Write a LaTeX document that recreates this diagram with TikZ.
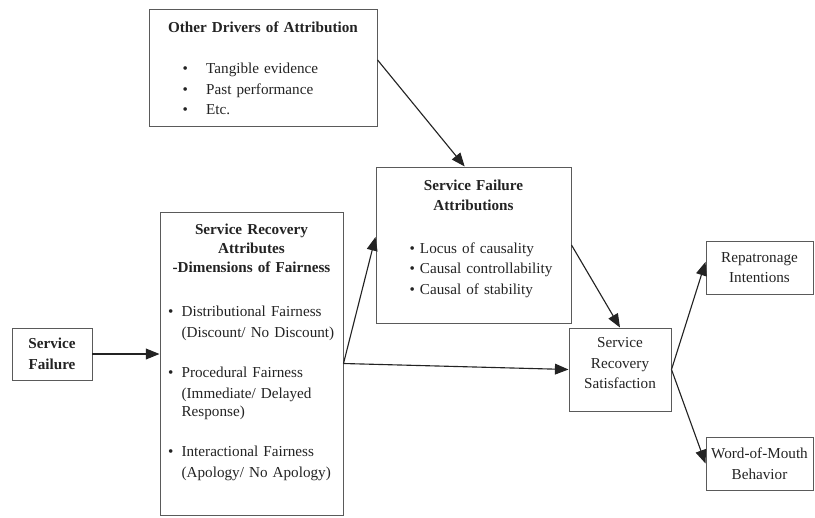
\documentclass[tikz,border=0pt]{standalone}
\usepackage{fontspec}
\setmainfont{Liberation Serif}
\usepackage{xcolor}
\usepackage{tikz}
\definecolor{framegray}{RGB}{90,90,90}
\definecolor{inkdark}{RGB}{35,35,35}
\usetikzlibrary{arrows.meta,positioning,calc}

\begin{document}
\begin{tikzpicture}[
    panel/.style 2 args={rectangle, draw=framegray, line width=0.7pt, inner sep=0pt, align=center, text=inkdark,
        minimum width=#1, text width=#1, minimum height=#2, font=\fontsize{10.8}{14.6}\selectfont},
    link/.style={-{Triangle[length=3.4mm,width=2.7mm]}, line width=0.8pt, draw=inkdark}
]
\useasboundingbox (0,0) rectangle (20.375,-12.925);

% Boxes
\node[panel={5.7cm}{2.925cm}] (drivers) at (6.575,-1.6875) {%
    {\bfseries Other Drivers of Attribution\par}\vspace{0.5cm}
    \raggedright\noindent\hspace*{0.84cm}\begin{tabular}[t]{@{}p{0.59cm}@{}l@{}}
        \textbullet & Tangible evidence\\
        \textbullet & Past performance\\
        \textbullet & Etc.
    \end{tabular}\par\vspace{-0.2cm}};
\node[panel={4.875cm}{3.9cm}] (attrib) at (11.8375,-6.125) {%
    {\bfseries Service Failure\\Attributions\par}\vspace{0.55cm}
    \raggedright\noindent\hspace*{0.84cm}\begin{tabular}[t]{@{}p{0.26cm}@{}l@{}}
        \textbullet & Locus of causality\\
        \textbullet & Causal controllability\\
        \textbullet & Causal of stability
    \end{tabular}\par\vspace{0.25cm}};
\node[panel={4.575cm}{7.575cm}] (recov) at (6.2875,-9.0875) {%
    {\bfseries Service Recovery\\[-1pt]Attributes\\[-1pt]-Dimensions of Fairness\par}\vspace{0.6cm}
    \raggedright\noindent\hspace*{0.2cm}\begin{tabular}[t]{@{}p{0.34cm}@{}l@{}}
        \textbullet & Distributional Fairness\\
                    & (Discount/ No Discount)\\[0.5cm]
        \textbullet & Procedural Fairness\\
                    & (Immediate/ Delayed\\[-2pt]
                    & Response)\\[0.5cm]
        \textbullet & Interactional Fairness\\
                    & (Apology/ No Apology)
    \end{tabular}\par\vspace{0.5cm}};
\node[panel={2cm}{1.3cm}] (fail) at (1.3,-8.85) {\bfseries Service\\Failure};
\node[panel={2.55cm}{2.075cm}] (satis) at (15.5,-9.2375) {Service\\Recovery\\Satisfaction\par\vspace{0.3cm}};
\node[panel={2.675cm}{1.325cm}] (repat) at (18.9875,-6.6875) {Repatronage\\Intentions};
\node[panel={2.675cm}{1.325cm}] (wom) at (18.9875,-11.5875) {Word-of-Mouth\\Behavior};

% Connectors
\draw[link] ([yshift=0.19cm]drivers.east) -- ([xshift=-0.22cm]attrib.north);
\draw[link] (fail.east) -- (fail.east -| recov.west);
\draw[link] (recov.east) -- ([yshift=0.2cm]attrib.west);
\draw[link] (recov.east) -- (satis.west);
\draw[link] (attrib.east) -- (satis.north);
\draw[link] (satis.east) -- ([yshift=0.14cm]repat.west);
\draw[link] (satis.east) -- (wom.west);

\end{tikzpicture}
\end{document}
